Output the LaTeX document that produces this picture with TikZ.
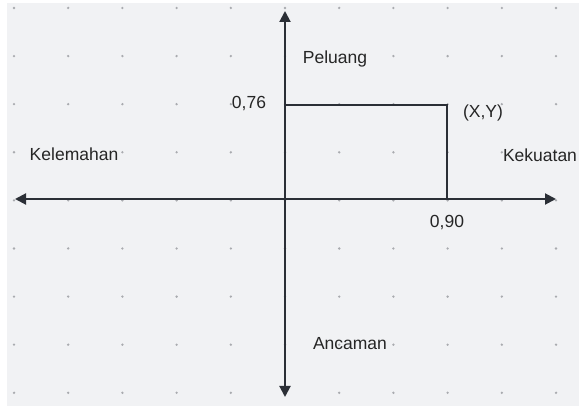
\documentclass[tikz,border=0pt]{standalone}
\usepackage{fontspec}
\setmainfont{Liberation Sans}
\usetikzlibrary{arrows.meta,positioning}
\definecolor{panel}{HTML}{F1F2F4}
\definecolor{ink}{HTML}{2B2F36}
\definecolor{dotc}{HTML}{A9ABAF}

\begin{document}
\begin{tikzpicture}[x=1pt,y=-1pt,every node/.style={font=\fontsize{17.5}{20}\selectfont,text=black!85,inner sep=0pt},axis/.style={draw=ink,line width=2pt,{Triangle[length=11pt,width=11pt]}-{Triangle[length=11pt,width=11pt]}}]
\useasboundingbox(0,0)rectangle(579,406);
\fill[panel](7,3)rectangle(579,406);
\foreach \i in {0,...,10}
  \foreach \j in {0,...,8}
    \fill[dotc](14+54.2*\i,8+48.1*\j)circle(1.3);
\coordinate(top)at(285,11);
\coordinate(bottom)at(285,397);
\coordinate(left)at(15,199);
\coordinate(right)at(556,199);
\coordinate(Y)at(285,105);
\coordinate(XY)at(447,105);
\coordinate(X)at(447,199);
\draw[axis](bottom)--(top);
\draw[axis](left)--(right);
\draw[ink,line width=1.3pt](Y)-|(XY)--(X);
\node(peluang)at(335,59){Peluang};
\node(yval)at(249,104){0,76};
\node(xylabel)at(483,113){(X,Y)};
\node(kelemahan)at(74,154){Kelemahan};
\node(kekuatan)at(540,155){Kekuatan};
\node(xval)at(447,223){0,90};
\node(ancaman)at(350,344){Ancaman};
\end{tikzpicture}
\end{document}
